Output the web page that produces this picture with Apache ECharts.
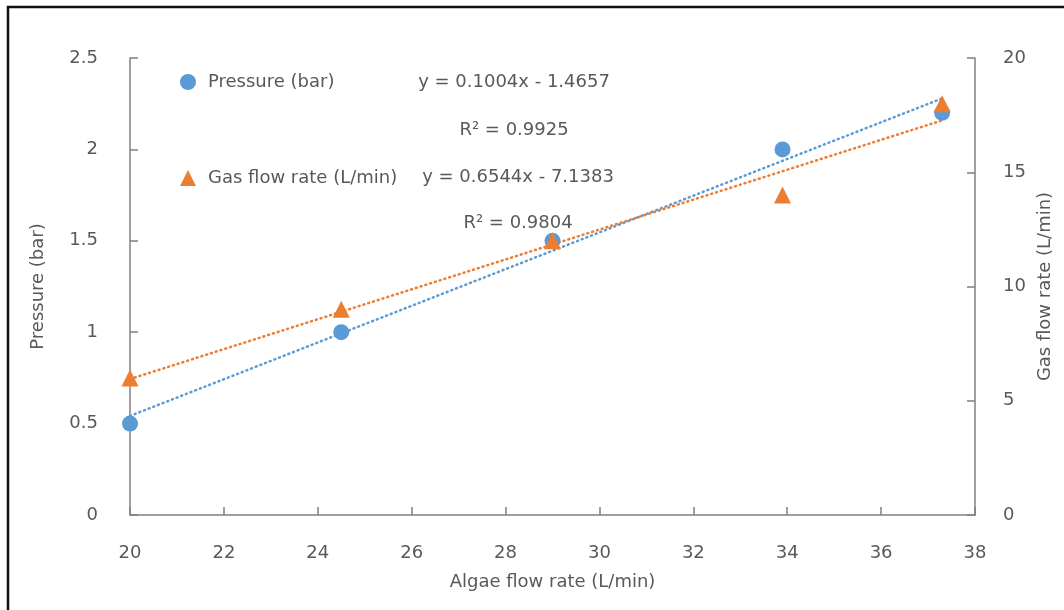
<!DOCTYPE html>
<html>
<head>
<meta charset="utf-8">
<script src="https://cdn.jsdelivr.net/npm/echarts@6/dist/echarts.min.js"></script>
<style>
html,body{margin:0;padding:0;background:#fff;}
#c{width:1064px;height:610px;}
</style>
</head>
<body>
<div id="c"></div>
<script>
const algaeFlow = [20, 24.5, 29, 33.9, 37.3];
const pressure = [0.5, 1.0, 1.5, 2.0, 2.2];
const gasFlow = [6, 9, 12, 14, 18];
const trendX = [20, 37.3];
const pressureTrend = [0.542, 2.279];
const gasTrend = [5.95, 17.27];
const seriesNames = ['Pressure (bar)', 'Gas flow rate (L/min)'];
const equations = ['y = 0.1004x - 1.4657', 'R² = 0.9925', 'y = 0.6544x - 7.1383', 'R² = 0.9804'];

const blue = '#5B9BD5', orange = '#ED7D31', txt = '#595959', axisCol = '#808080';
const font = 'DejaVu Sans, sans-serif';
const fs = 18;

function pairs(xs, ys){ return xs.map((x,i)=>[x, ys[i]]); }

const chart = echarts.init(document.getElementById('c'));
chart.setOption({
  animation: false,
  textStyle: {fontFamily: font},
  grid: {left: 130, right: 89, top: 58, bottom: 95},
  legend: {
    orient: 'vertical', left: 175, top: 68, itemGap: 78, padding: 5,
    itemWidth: 16, itemHeight: 16,
    textStyle: {color: txt, fontSize: fs, fontFamily: font, lineHeight: 18, padding: [0, 0, 0, 7]},
    data: [{name: seriesNames[0], icon: 'circle'}, {name: seriesNames[1], icon: 'triangle'}]
  },
  xAxis: {
    type: 'value', min: 20, max: 38, interval: 2,
    name: 'Algae flow rate (L/min)', nameLocation: 'middle', nameGap: 58,
    nameTextStyle: {color: txt, fontSize: fs},
    axisLine: {show: true, lineStyle: {color: axisCol, width: 1.5}},
    axisTick: {show: true, inside: true, length: 8, lineStyle: {color: axisCol, width: 1.5}},
    axisLabel: {color: txt, fontSize: fs, margin: 29},
    splitLine: {show: false}
  },
  yAxis: [{
    type: 'value', min: 0, max: 2.5, interval: 0.5,
    name: 'Pressure (bar)', nameLocation: 'middle', nameGap: 83,
    nameTextStyle: {color: txt, fontSize: fs},
    axisLine: {show: true, lineStyle: {color: axisCol, width: 1.5}},
    axisTick: {show: true, inside: true, length: 8, lineStyle: {color: axisCol, width: 1.5}},
    axisLabel: {color: txt, fontSize: fs, margin: 32},
    splitLine: {show: false}
  }, {
    type: 'value', min: 0, max: 20, interval: 5, position: 'right',
    name: 'Gas flow rate (L/min)', nameLocation: 'middle', nameGap: 58,
    nameTextStyle: {color: txt, fontSize: fs},
    axisLine: {show: true, lineStyle: {color: axisCol, width: 1.5}},
    axisTick: {show: true, inside: true, length: 8, lineStyle: {color: axisCol, width: 1.5}},
    axisLabel: {color: txt, fontSize: fs, margin: 28},
    splitLine: {show: false}
  }],
  series: [
    {type: 'line', name: 'ptrend', yAxisIndex: 0, data: pairs(trendX, pressureTrend), symbol: 'none',
     lineStyle: {color: blue, width: 2.5, type: [1, 4], cap: 'round'}, silent: true, z: 1},
    {type: 'line', name: 'gtrend', yAxisIndex: 1, data: pairs(trendX, gasTrend), symbol: 'none',
     lineStyle: {color: orange, width: 2.5, type: [1, 4], cap: 'round'}, silent: true, z: 1},
    {type: 'scatter', name: seriesNames[0], yAxisIndex: 0, data: pairs(algaeFlow, pressure),
     symbol: 'circle', symbolSize: 16, itemStyle: {color: blue, opacity: 1}, z: 3},
    {type: 'scatter', name: seriesNames[1], yAxisIndex: 1, data: pairs(algaeFlow, gasFlow),
     symbol: 'triangle', symbolSize: 17, itemStyle: {color: orange, opacity: 1}, z: 4}
  ],
  graphic: [
    {type: 'rect', shape: {x: 8, y: 7, width: 1100, height: 700}, style: {fill: 'none', stroke: '#111', lineWidth: 2.5}, silent: true},
    {type: 'text', x: 514, y: 82, style: {text: equations[0], fill: txt, font: fs + 'px ' + font, textAlign: 'center', textVerticalAlign: 'middle'}},
    {type: 'text', x: 514, y: 130, style: {text: equations[1], fill: txt, font: fs + 'px ' + font, textAlign: 'center', textVerticalAlign: 'middle'}},
    {type: 'text', x: 518, y: 177, style: {text: equations[2], fill: txt, font: fs + 'px ' + font, textAlign: 'center', textVerticalAlign: 'middle'}},
    {type: 'text', x: 518, y: 223, style: {text: equations[3], fill: txt, font: fs + 'px ' + font, textAlign: 'center', textVerticalAlign: 'middle'}}
  ]
});
</script>
</body>
</html>
